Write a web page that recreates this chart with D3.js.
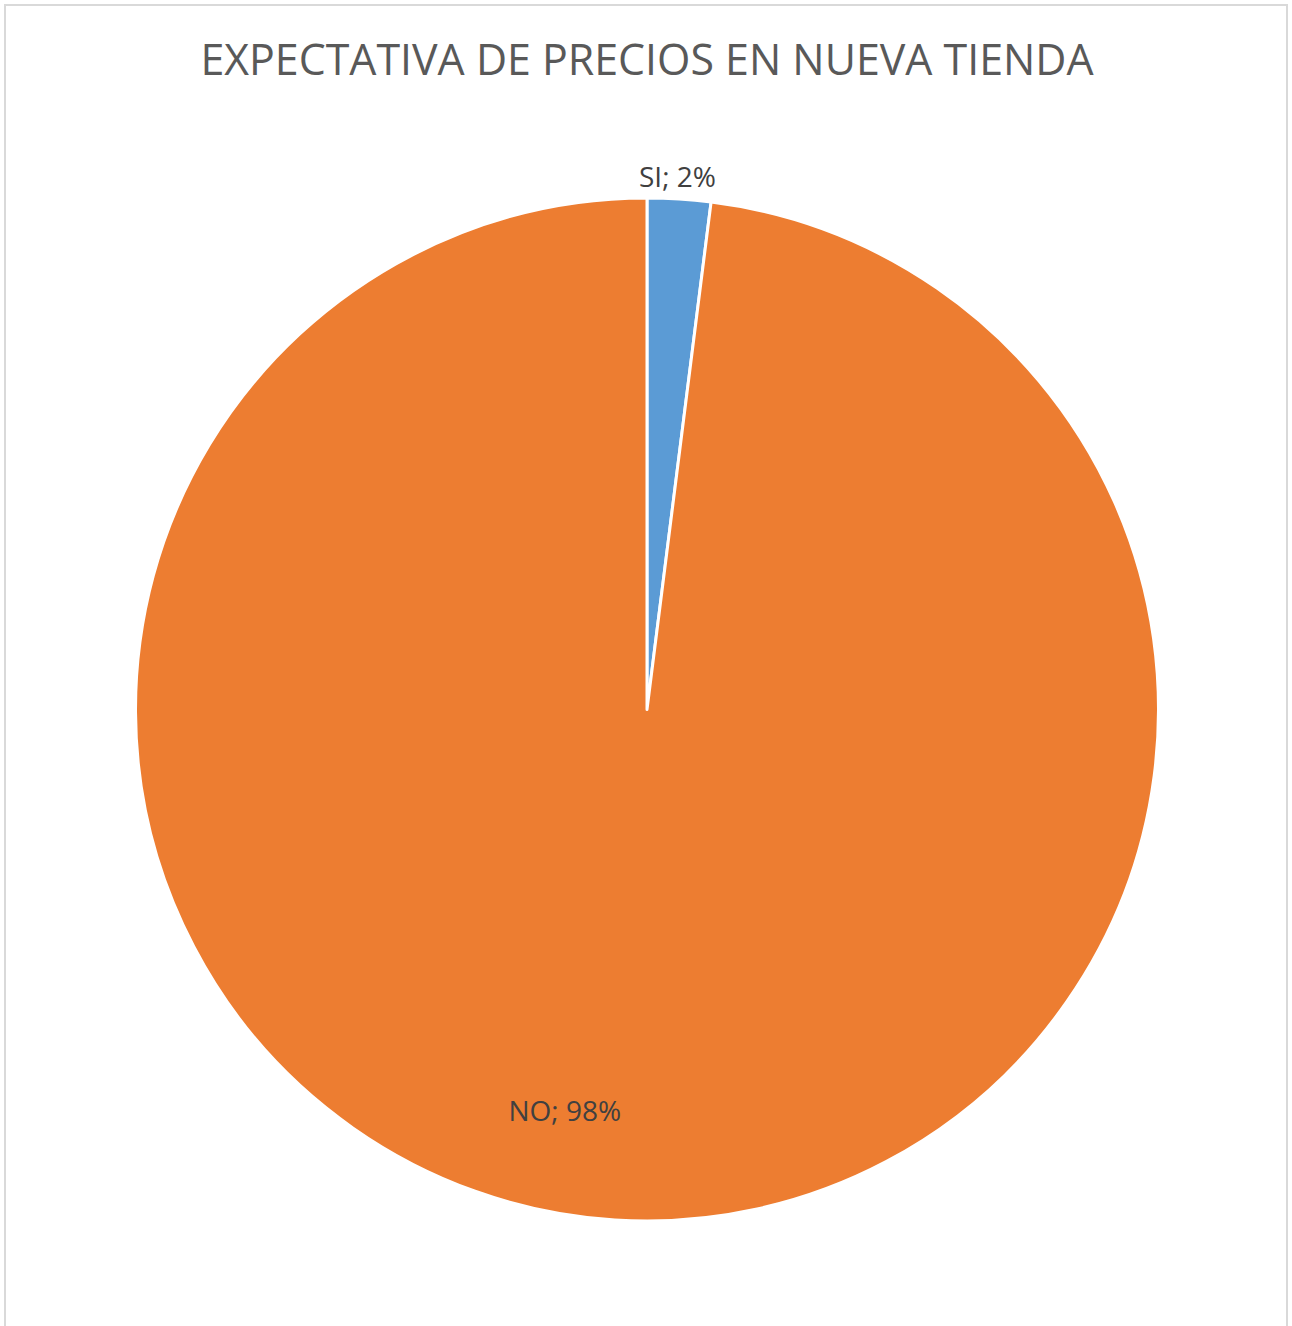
<!DOCTYPE html>
<html>
<head>
<meta charset="utf-8">
<script src="https://cdn.jsdelivr.net/npm/d3@7"></script>
<style>
  html, body { margin: 0; padding: 0; background: #fff; }
  svg { display: block; }
</style>
</head>
<body>
<svg id="chart" width="1292" height="1326"></svg>
<script>
// Survey answers: expected prices in the new store
const categories = ["SI", "NO"];
const shares = [2, 98];
const colors = ["#5B9BD5", "#ED7D31"];
const title = "EXPECTATIVA DE PRECIOS EN NUEVA TIENDA";

const svg = d3.select("#chart");
const W = 1292, H = 1326;

// chart area frame
svg.append("rect")
  .attr("x", 5).attr("y", 5)
  .attr("width", W - 10).attr("height", H + 20)
  .attr("fill", "#fff")
  .attr("stroke", "#d9d9d9")
  .attr("stroke-width", 2);

svg.append("text")
  .attr("x", 647).attr("y", 75)
  .attr("text-anchor", "middle")
  .attr("font-family", "'Open Sans', sans-serif")
  .attr("font-size", 42.9)
  .attr("fill", "#595959")
  .text(title);

const cx = 647, cy = 709.5, r = 511.5;
const data = categories.map((c, i) => ({ name: c, value: shares[i], color: colors[i] }));

const pie = d3.pie().sort(null).value(d => d.value);
const arcs = pie(data);
const arc = d3.arc().innerRadius(0).outerRadius(r);

const g = svg.append("g").attr("transform", `translate(${cx},${cy})`);

g.selectAll("path")
  .data(arcs)
  .join("path")
  .attr("d", arc)
  .attr("fill", d => d.data.color)
  .attr("stroke", "#fff")
  .attr("stroke-width", 3)
  .attr("stroke-linejoin", "round");

// data labels: small slice outside the edge, large slice inside
const outside = d3.arc().innerRadius(r + 22).outerRadius(r + 22);
const inside = d3.arc().innerRadius(r * 0.787).outerRadius(r * 0.787);

g.selectAll("text.lbl")
  .data(arcs)
  .join("text")
  .attr("class", "lbl")
  .attr("text-anchor", "middle")
  .attr("font-family", "'Open Sans', sans-serif")
  .attr("font-size", 28)
  .attr("fill", "#404040")
  .attr("transform", d => {
    const small = d.data.value < 10;
    const [x, y] = (small ? outside : inside).centroid(d);
    return `translate(${x + (small ? -3 : -57)},${y + 10})`;
  })
  .text(d => `${d.data.name}; ${d.data.value}%`);
</script>
</body>
</html>
